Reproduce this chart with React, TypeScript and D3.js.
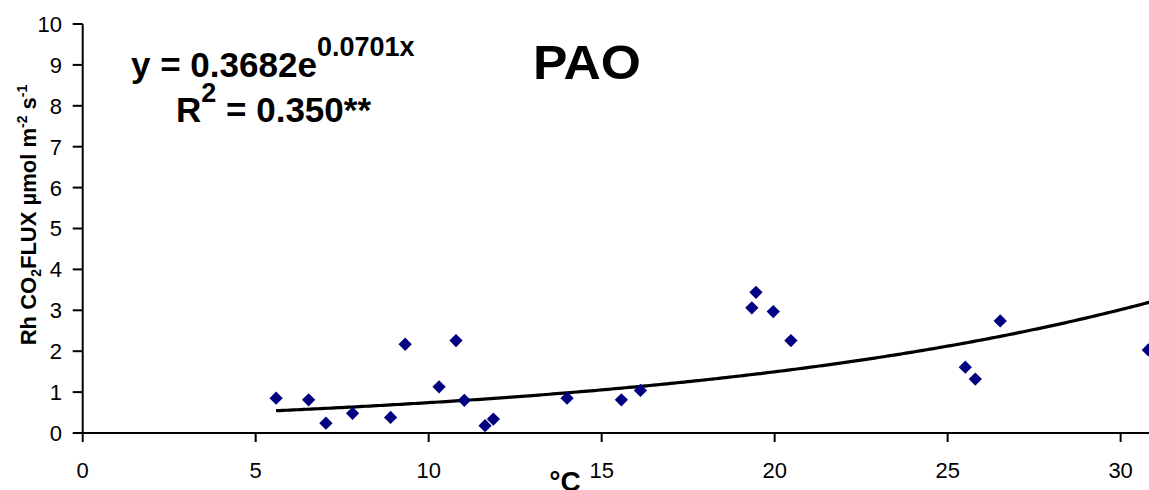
import React from "react";
import * as d3 from "d3";

const temps = [5.59, 6.53, 7.03, 7.8, 8.9, 9.32, 10.3, 10.79, 11.03, 11.63, 11.87, 14.0, 15.57, 16.12, 19.34, 19.46, 19.96, 20.47, 25.51, 25.8, 26.52, 30.8];
const fluxes = [0.85, 0.81, 0.24, 0.48, 0.38, 2.17, 1.13, 2.26, 0.8, 0.18, 0.34, 0.85, 0.81, 1.04, 3.06, 3.44, 2.97, 2.26, 1.61, 1.32, 2.74, 2.03];
const xTicks = [0, 5, 10, 15, 20, 25, 30];
const yTicks = [0, 1, 2, 3, 4, 5, 6, 7, 8, 9, 10];
const fitA = 0.3682;
const fitB = 0.0701;

const W = 1149;
const H = 490;
const FONT = "'Liberation Sans', Arial, sans-serif";

export default function App() {
  const x = d3.scaleLinear().domain([0, 30.82]).range([82.7, 1149]);
  const y = d3.scaleLinear().domain([0, 10]).range([433, 24]);
  const xMin = d3.min(temps) as number;
  const fitX = d3.range(xMin, 31.5, 0.1);
  const line = d3
    .line<number>()
    .x((d) => x(d))
    .y((d) => y(fitA * Math.exp(fitB * d)));
  const diamond = d3.symbol().type(d3.symbolSquare).size(88)();
  const x0 = x(0);
  const y0 = y(0);
  return (
    <svg
      width={W}
      height={H}
      style={{ position: "absolute", left: 0, top: 0, background: "#fff" }}
      fontFamily={FONT}
    >
      <rect width={W} height={H} fill="#fff" />
      {/* fit line */}
      <path d={line(fitX) || ""} fill="none" stroke="#000" strokeWidth={3.2} />
      {/* points */}
      {temps.map((t, i) => (
        <path key={i} d={diamond || ""} transform={`translate(${x(t)},${y(fluxes[i])}) rotate(45)`} fill="#000080" />
      ))}
      {/* axes */}
      <line x1={x0} x2={x0} y1={y(10)} y2={y0} stroke="#000" strokeWidth={2} />
      <line x1={x0} x2={W} y1={y0} y2={y0} stroke="#000" strokeWidth={2} />
      {yTicks.map((t) => (
        <g key={"y" + t}>
          <line x1={x0 - 10} x2={x0} y1={y(t)} y2={y(t)} stroke="#000" strokeWidth={2} />
          <text x={62} y={y(t)} dy="0.36em" textAnchor="end" fontSize={22}>
            {t}
          </text>
        </g>
      ))}
      {xTicks.map((t) => (
        <g key={"x" + t}>
          <line x1={x(t)} x2={x(t)} y1={y0} y2={y0 + 9} stroke="#000" strokeWidth={2} />
          <text x={x(t)} y={478} textAnchor="middle" fontSize={22}>
            {t}
          </text>
        </g>
      ))}
      {/* y axis label */}
      <text transform="translate(36,215) rotate(-90)" textAnchor="middle" fontSize={22} fontWeight="bold">
        <tspan>Rh CO</tspan>
        <tspan fontSize={14} dy={5}>2</tspan>
        <tspan dy={-5}>FLUX µmol m</tspan>
        <tspan fontSize={14} dy={-9}>-2</tspan>
        <tspan dy={9}> s</tspan>
        <tspan fontSize={14} dy={-9}>-1</tspan>
      </text>
      {/* x axis label */}
      <text x={565} y={491} textAnchor="middle" fontSize={28} fontWeight="bold">
        °C
      </text>
      {/* equation */}
      <text x={131} y={77} fontSize={35} fontWeight="bold">
        <tspan>y = 0.3682e</tspan>
        <tspan fontSize={27} dy={-21}>0.0701x</tspan>
      </text>
      <text x={176} y={122} fontSize={35} fontWeight="bold">
        <tspan>R</tspan>
        <tspan fontSize={27} dy={-20}>2</tspan>
        <tspan dy={20}> = 0.350**</tspan>
      </text>
      <text x={533} y={79} fontSize={48} fontWeight="bold" textLength={108} lengthAdjust="spacingAndGlyphs">
        PAO
      </text>
    </svg>
  );
}
